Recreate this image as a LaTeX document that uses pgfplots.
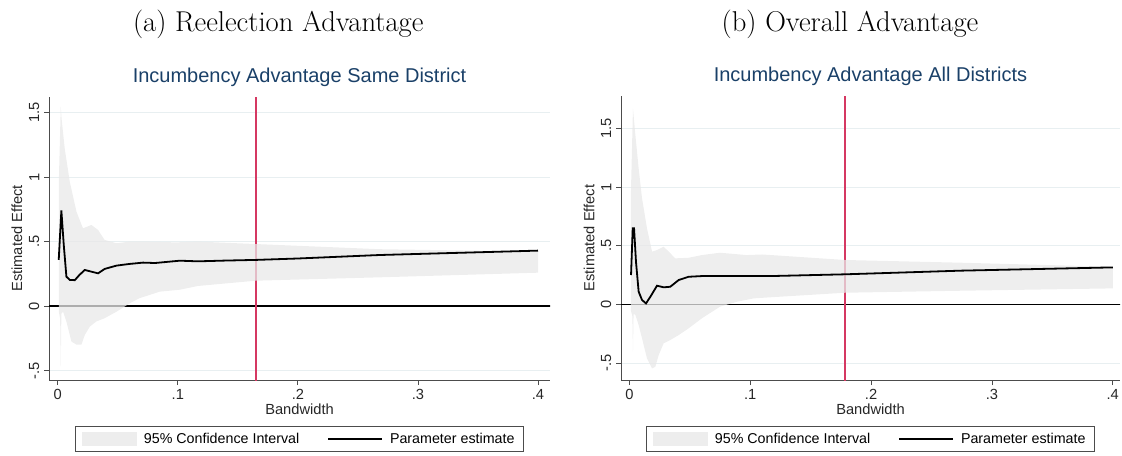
\documentclass[border=0pt]{standalone}
\usepackage{pgfplots}
\pgfplotsset{compat=1.18}
\usepackage{pgfplotstable}
\usepackage{fontspec}
\newfontfamily\arial{Liberation Sans}
\definecolor{bandc}{RGB}{232,232,232}
\definecolor{gridc}{RGB}{232,239,241}
\definecolor{stblue}{RGB}{26,64,104}
\definecolor{vred}{RGB}{213,56,98}
\definecolor{axc}{gray}{0.3}

% ---------- Panel (a): estimate ----------
\pgfplotstableread{
x y
0.0008 0.357
0.0030 0.740
0.0050 0.473
0.0072 0.227
0.0100 0.202
0.0142 0.200
0.0180 0.240
0.0225 0.279
0.0280 0.266
0.0336 0.253
0.0390 0.287
0.0490 0.313
0.0600 0.326
0.0710 0.336
0.0810 0.333
0.1017 0.351
0.1167 0.346
0.1400 0.352
0.1650 0.357
0.2000 0.368
0.2680 0.395
0.3300 0.411
0.4000 0.429
}\aest
% Panel (a): 95% CI polygon (upper bound left->right, then lower bound right->left)
\pgfplotstableread{
x y
0.0010 1.000
0.0025 1.545
0.0032 1.450
0.0058 1.220
0.0100 0.963
0.0156 0.730
0.0210 0.602
0.0280 0.628
0.0336 0.589
0.0390 0.512
0.0490 0.486
0.0600 0.499
0.0708 0.499
0.0986 0.493
0.1167 0.499
0.1650 0.480
0.2680 0.440
0.4000 0.421
0.4000 0.258
0.2680 0.222
0.1650 0.196
0.1167 0.155
0.1017 0.126
0.0850 0.111
0.0680 0.060
0.0600 0.021
0.0490 -0.044
0.0390 -0.095
0.0320 -0.121
0.0267 -0.160
0.0225 -0.225
0.0197 -0.300
0.0156 -0.300
0.0114 -0.276
0.0072 -0.121
0.0044 -0.044
0.0030 -0.060
0.0025 -0.470
0.0020 -0.100
0.0010 -0.050
}\aband

% ---------- Panel (b): estimate ----------
\pgfplotstableread{
x y
0.0014 0.250
0.0028 0.648
0.0039 0.648
0.0055 0.363
0.0077 0.108
0.0105 0.037
0.0138 0.008
0.0174 0.065
0.0229 0.159
0.0284 0.145
0.0339 0.150
0.0408 0.207
0.0490 0.235
0.0600 0.241
0.0890 0.241
0.1166 0.241
0.1785 0.256
0.2740 0.287
0.4000 0.315
}\best
% Panel (b): 95% CI polygon
\pgfplotstableread{
x y
0.0012 0.900
0.0030 1.670
0.0050 1.443
0.0077 1.159
0.0105 0.904
0.0146 0.648
0.0188 0.449
0.0229 0.463
0.0284 0.491
0.0326 0.449
0.0380 0.392
0.0490 0.397
0.0600 0.420
0.0750 0.440
0.0970 0.420
0.1100 0.425
0.1785 0.378
0.2740 0.355
0.4000 0.320
0.4000 0.136
0.2740 0.116
0.1785 0.099
0.1166 0.060
0.1030 0.051
0.0890 0.022
0.0750 -0.020
0.0600 -0.119
0.0490 -0.205
0.0408 -0.262
0.0339 -0.304
0.0284 -0.332
0.0243 -0.432
0.0215 -0.532
0.0188 -0.546
0.0146 -0.460
0.0105 -0.290
0.0077 -0.176
0.0050 -0.091
0.0035 -0.080
0.0030 -0.404
0.0025 -0.100
0.0012 -0.050
}\bband

\pgfplotsset{
  panel/.style={
    scale only axis,
    axis x line=bottom, axis y line=left,
    x axis line style={-, axc, line width=0.6pt},
    y axis line style={-, axc, line width=0.6pt},
    xtick={0,0.1,0.2,0.3,0.4}, xticklabels={0,.1,.2,.3,.4},
    ytick={-0.5,0,0.5,1,1.5}, yticklabels={-.5,0,.5,1,1.5},
    tick align=outside, major tick length=3.75pt,
    tick style={axc, line width=0.6pt},
    ymajorgrids, grid style={gridc, line width=0.6pt},
    ticklabel style={font=\arial\fontsize{11}{12}\selectfont, text=black!85},
    yticklabel style={rotate=90, anchor=south},
    xlabel={Bandwidth}, ylabel={Estimated Effect},
    label style={font=\arial\fontsize{11}{12}\selectfont, text=black!85},
    xlabel style={at={(axis description cs:0.5,0)}, anchor=base, yshift=-25.5pt},
    title style={font=\arial\fontsize{15}{17}\selectfont, text=stblue,
                 at={(axis description cs:0.5,1)}, anchor=base, yshift=5.25pt},
    legend columns=2,
    legend style={anchor=center,
      draw=black!70, line width=0.6pt, font=\arial\fontsize{10.7}{12}\selectfont,
      inner xsep=5pt, inner ysep=2.5pt,
      /tikz/every odd column/.append style={column sep=3.5pt},
      /tikz/every even column/.append style={column sep=19pt}},
  },
  ciimage/.style={legend image code/.code={%
      \fill[black!7] (0pt,-4.9pt) rectangle (40.5pt,4.9pt);}},
  estimage/.style={legend image code/.code={%
      \draw[black, line width=1pt] (0pt,0pt) -- (40.5pt,0pt);}},
}

\begin{document}
\begin{tikzpicture}
\useasboundingbox (0pt,0pt) rectangle (841.5pt,341.25pt);
\node[font=\fontsize{21.5}{24}\selectfont, anchor=base] at (208.7pt,318pt) {(a) Reelection Advantage};
\node[font=\fontsize{21.5}{24}\selectfont, anchor=base] at (637.5pt,318pt) {(b) Overall Advantage};

\begin{axis}[panel, at={(36.75pt,56.25pt)}, anchor=south west,
  width=375.75pt, height=212.25pt,
  xmin=-0.0073, xmax=0.41, ymin=-0.574, ymax=1.62,
  ylabel style={at={(axis description cs:-0.0639,0.5)}, anchor=center},
  legend style={at={(0.5,-0.2085)}},
  title={Incumbency Advantage Same District}]
  \addplot[black, line width=1pt, forget plot] coordinates {(-0.05,0) (0.5,0)};
  \addplot[vred, line width=1.3pt, forget plot] coordinates {(0.165,-1) (0.165,2)};
  \addplot[fill=bandc, fill opacity=0.75, draw=none, forget plot] table {\aband};
  \addplot[black, line width=1.35pt, forget plot] table {\aest};
  \addlegendimage{ciimage}
  \addlegendentry{95\% Confidence Interval}
  \addlegendimage{estimage}
  \addlegendentry{Parameter estimate\hspace{8pt}}
\end{axis}

\begin{axis}[panel, at={(465.75pt,56.25pt)}, anchor=south west,
  width=374.25pt, height=213pt,
  xmin=-0.0069, xmax=0.406, ymin=-0.645, ymax=1.776,
  ylabel style={at={(axis description cs:-0.0641,0.5)}, anchor=center},
  legend style={at={(0.5,-0.2077)}},
  title={Incumbency Advantage All Districts}]
  \addplot[black, line width=1pt, forget plot] coordinates {(-0.05,0) (0.5,0)};
  \addplot[vred, line width=1.3pt, forget plot] coordinates {(0.1785,-1) (0.1785,2)};
  \addplot[fill=bandc, fill opacity=0.75, draw=none, forget plot] table {\bband};
  \addplot[black, line width=1.35pt, forget plot] table {\best};
  \addlegendimage{ciimage}
  \addlegendentry{95\% Confidence Interval}
  \addlegendimage{estimage}
  \addlegendentry{Parameter estimate\hspace{8pt}}
\end{axis}
\end{tikzpicture}
\end{document}
